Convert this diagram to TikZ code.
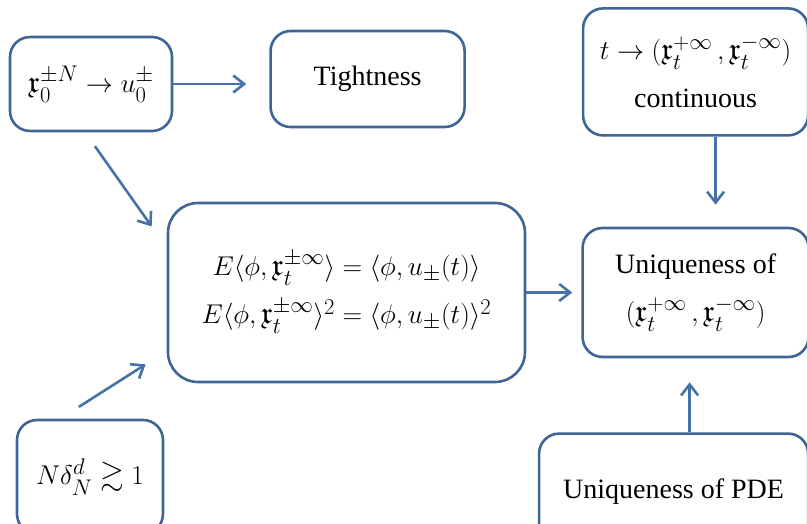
\documentclass[tikz,border=0pt]{standalone}
\usepackage{amssymb}
\usepackage{amsmath}
\usepackage{graphicx}
\usepackage{fontspec}
\setmainfont{Liberation Serif}
\usetikzlibrary{positioning,arrows.meta}

\definecolor{boxblue}{HTML}{3F6596}
\definecolor{arrowblue}{HTML}{4672A8}

% math is set a little larger than the text
\newcommand{\mathsz}[1]{\scalebox{1.09}{\(#1\)}}

\tikzset{
  stage/.style={draw=boxblue, line width=2.6pt, rounded corners=20pt,
    align=center, inner sep=0pt, font=\fontsize{28}{48}\selectfont},
  flow/.style={draw=arrowblue, line width=2.6pt,
    -{Straight Barb[length=11pt,width=17pt,line width=2.6pt]}},
}

\begin{document}
\begin{tikzpicture}[x=1pt,y=-1pt]
  \clip (0,0) rectangle (807,524);
  \useasboundingbox (0,0) rectangle (807,524);

  \node [stage, minimum width=162pt, minimum height=94pt] (init) at (91,84)
    {\mathsz{\mathfrak{x}_0^{\pm N} \to u_0^{\pm}}};
  \node [stage, right=96pt of init, yshift=5pt, minimum width=194pt, minimum height=96pt] (tight)
    {Tightness};
  \node [stage, rounded corners=30pt, minimum width=357pt, minimum height=179pt] (moments) at (346.5,292.5)
    {\mathsz{E\langle\phi,\mathfrak{x}_t^{\pm\infty}\rangle = \langle\phi,u_\pm(t)\rangle}\\
     \mathsz{E\langle\phi,\mathfrak{x}_t^{\pm\infty}\rangle^2 = \langle\phi,u_\pm(t)\rangle^2}};
  \node [stage, right=55pt of moments, minimum width=226pt, minimum height=129pt] (uniq)
    {Uniqueness of\\ \mathsz{(\mathfrak{x}_t^{+\infty}\,, \mathfrak{x}_t^{-\infty})}};
  \node [stage, above=90pt of uniq, minimum width=225pt, minimum height=127pt] (cont)
    {\mathsz{t\to(\mathfrak{x}_t^{+\infty}\,, \mathfrak{x}_t^{-\infty})}\\ continuous};
  \node [stage, below=74pt of uniq, xshift=-22pt, minimum width=269pt, minimum height=116pt] (pde)
    {Uniqueness of PDE};
  \node [stage, minimum width=146pt, minimum height=114pt] (dens) at (90,477)
    {\mathsz{N\delta_N^d \gtrsim 1}};

  % arrows into the moment box
  \draw [flow, shorten >=23pt] (init.east) -- (init.east -| tight.west);
  \draw [flow, shorten <=17pt, shorten >=26pt] (init.263) -- (moments.166);
  \draw [flow, shorten <=22pt, shorten >=25pt] (dens.117) -- (moments.198);
  % arrows into the uniqueness box
  \draw [flow, shorten >=9pt] (moments.east) -- (moments.east -| uniq.west);
  \draw [flow, shorten >=22pt] ([xshift=20pt]cont.south) -- ([xshift=20pt]cont.south |- uniq.north);
  \draw [flow, shorten >=24pt] ([xshift=16pt]pde.north) -- ([xshift=16pt]pde.north |- uniq.south);
\end{tikzpicture}
\end{document}
